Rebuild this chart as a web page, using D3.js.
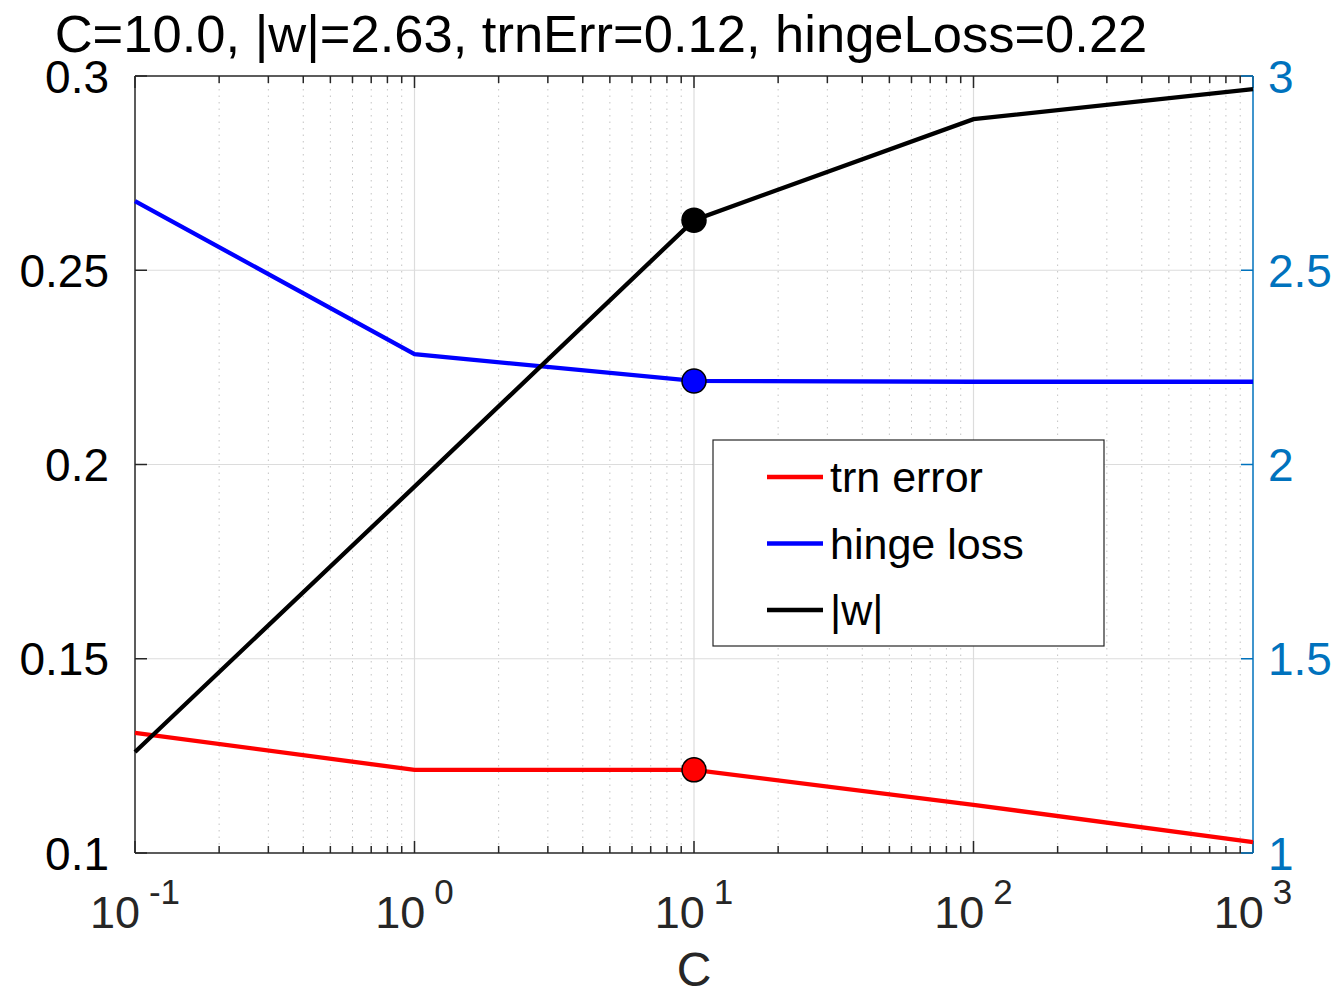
<!DOCTYPE html>
<html><head><meta charset="utf-8">
<script src="https://cdn.jsdelivr.net/npm/d3@7"></script>
<style>body{margin:0;background:#fff}svg{display:block}text{font-family:"Liberation Sans",Arial,Helvetica,sans-serif}</style>
</head><body>
<svg id="c" width="1339" height="991"></svg>
<script>
const C = [0.1, 1, 10, 100, 1000];
const trnError = [0.1309, 0.1214, 0.1214, 0.1124, 0.1028];
const hingeLoss = [0.2678, 0.2284, 0.2215, 0.2213, 0.2213];
const wNorm = [1.260, 1.943, 2.629, 2.889, 2.966];
const selectedIdx = 2;
const leftTicks = [0.1, 0.15, 0.2, 0.25, 0.3];
const rightTicks = [1, 1.5, 2, 2.5, 3];
const xTickExps = [-1, 0, 1, 2, 3];
const legendLabels = ["trn error", "hinge loss", "|w|"];
const titleText = "C=10.0, |w|=2.63, trnErr=0.12, hingeLoss=0.22";

const svg = d3.select("#c");
const L = 135, R = 1253, T = 76, B = 853;
const x = d3.scaleLog().domain([0.1, 1000]).range([L, R]);
const yL = d3.scaleLinear().domain([0.1, 0.3]).range([B, T]);
const yR = d3.scaleLinear().domain([1, 3]).range([B, T]);
const axisCol = "#262626", blue = "#0072BD";

// minor grid (x)
const minors = [];
for (let e = -1; e < 3; e++) for (let k = 2; k <= 9; k++) minors.push(k * Math.pow(10, e));
svg.append("g").selectAll("line").data(minors).join("line")
  .attr("x1", d => x(d)).attr("x2", d => x(d)).attr("y1", T).attr("y2", B)
  .attr("stroke", "#c4c4c4").attr("stroke-width", 1).attr("stroke-dasharray", "1.5,5");
// major grid
svg.append("g").selectAll("line").data(xTickExps.slice(1, -1)).join("line")
  .attr("x1", d => x(Math.pow(10, d))).attr("x2", d => x(Math.pow(10, d))).attr("y1", T).attr("y2", B)
  .attr("stroke", "#dcdcdc").attr("stroke-width", 1.2);
svg.append("g").selectAll("line").data(leftTicks.slice(1, -1)).join("line")
  .attr("x1", L).attr("x2", R).attr("y1", d => yL(d)).attr("y2", d => yL(d))
  .attr("stroke", "#dcdcdc").attr("stroke-width", 1.2);

// axes box lines
svg.append("line").attr("x1", L).attr("x2", R).attr("y1", B).attr("y2", B).attr("stroke", axisCol).attr("stroke-width", 1.5);
svg.append("line").attr("x1", L).attr("x2", R).attr("y1", T).attr("y2", T).attr("stroke", axisCol).attr("stroke-width", 1.5);
svg.append("line").attr("x1", L).attr("x2", L).attr("y1", T).attr("y2", B).attr("stroke", axisCol).attr("stroke-width", 1.5);

// x ticks (bottom & top, inside)
const xt = svg.append("g");
xTickExps.forEach(e => {
  const px = x(Math.pow(10, e));
  xt.append("line").attr("x1", px).attr("x2", px).attr("y1", B).attr("y2", B - 12).attr("stroke", axisCol).attr("stroke-width", 1.5);
  xt.append("line").attr("x1", px).attr("x2", px).attr("y1", T).attr("y2", T + 12).attr("stroke", axisCol).attr("stroke-width", 1.5);
});
minors.forEach(m => {
  const px = x(m);
  xt.append("line").attr("x1", px).attr("x2", px).attr("y1", B).attr("y2", B - 7).attr("stroke", axisCol).attr("stroke-width", 1.5);
  xt.append("line").attr("x1", px).attr("x2", px).attr("y1", T).attr("y2", T + 7).attr("stroke", axisCol).attr("stroke-width", 1.5);
});
// x tick labels
xTickExps.forEach(e => {
  const t = xt.append("text").attr("x", x(Math.pow(10, e))).attr("y", 928)
    .attr("text-anchor", "middle").attr("fill", axisCol).attr("font-size", 45);
  t.append("tspan").text("10");
  t.append("tspan").attr("dx", 9).attr("dy", -24).attr("font-size", 35).text(String(e));
});
// left ticks
leftTicks.forEach(v => {
  svg.append("line").attr("x1", L).attr("x2", L + 12).attr("y1", yL(v)).attr("y2", yL(v)).attr("stroke", axisCol).attr("stroke-width", 1.5);
  svg.append("text").attr("x", 109).attr("y", yL(v)).attr("dy", "0.36em").attr("text-anchor", "end")
    .attr("font-size", 46).attr("fill", "#000").text(String(v));
});
// right axis
svg.append("line").attr("x1", R).attr("x2", R).attr("y1", T).attr("y2", B).attr("stroke", blue).attr("stroke-width", 1.5);
rightTicks.forEach(v => {
  svg.append("line").attr("x1", R).attr("x2", R - 12).attr("y1", yR(v)).attr("y2", yR(v)).attr("stroke", blue).attr("stroke-width", 1.5);
  svg.append("text").attr("x", 1268).attr("y", yR(v)).attr("dy", "0.36em").attr("text-anchor", "start")
    .attr("font-size", 46).attr("fill", blue).text(String(v));
});

// lines
const mk = (ys, yScale) => d3.line().x((d, i) => x(C[i])).y(d => yScale(d))(ys);
const series = [
  {vals: trnError, sc: yL, col: "#ff0000"},
  {vals: hingeLoss, sc: yL, col: "#0000ff"},
  {vals: wNorm, sc: yR, col: "#000000"}
];
series.forEach(s => {
  svg.append("path").attr("d", mk(s.vals, s.sc)).attr("fill", "none").attr("stroke", s.col).attr("stroke-width", 4.3);
});
series.forEach(s => {
  svg.append("circle").attr("cx", x(C[selectedIdx])).attr("cy", s.sc(s.vals[selectedIdx])).attr("r", 12)
    .attr("fill", s.col).attr("stroke", "#000").attr("stroke-width", 1.5);
});

// legend
const lg = svg.append("g");
lg.append("rect").attr("x", 713).attr("y", 440).attr("width", 391).attr("height", 206)
  .attr("fill", "#fff").attr("stroke", "#262626").attr("stroke-width", 1.2);
legendLabels.forEach((lab, i) => {
  const yy = 477 + i * 66.5;
  lg.append("line").attr("x1", 767).attr("x2", 823).attr("y1", yy).attr("y2", yy).attr("stroke", series[i].col).attr("stroke-width", 4.3);
  lg.append("text").attr("x", 830).attr("y", yy).attr("dy", "0.36em").attr("font-size", 43).attr("fill", "#000").text(lab);
});

// title & x label
svg.append("text").attr("x", 601).attr("y", 52).attr("text-anchor", "middle").attr("font-size", 52.5).attr("fill", "#000").text(titleText);
svg.append("text").attr("x", 694).attr("y", 986).attr("text-anchor", "middle").attr("font-size", 48).attr("fill", axisCol).text("C");
</script>
</body></html>
